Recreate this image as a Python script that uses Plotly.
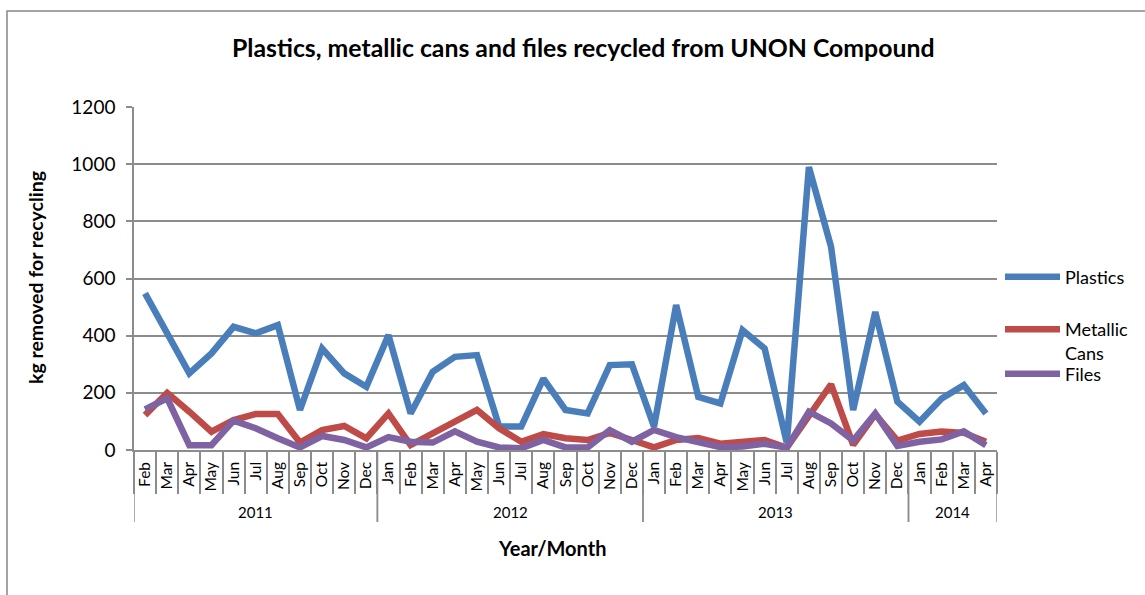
import plotly.graph_objects as go

# ---- data ----
month_labels = (["Feb", "Mar", "Apr", "May", "Jun", "Jul", "Aug", "Sep", "Oct", "Nov", "Dec"]
                + ["Jan", "Feb", "Mar", "Apr", "May", "Jun", "Jul", "Aug", "Sep", "Oct", "Nov", "Dec"]
                + ["Jan", "Feb", "Mar", "Apr", "May", "Jun", "Jul", "Aug", "Sep", "Oct", "Nov", "Dec"]
                + ["Jan", "Feb", "Mar", "Apr"])
year_labels = ["2011"] * 11 + ["2012"] * 12 + ["2013"] * 12 + ["2014"] * 4

plastics = [548, 413, 268, 338, 431, 408, 437, 140, 355, 268, 221,
            402, 128, 274, 326, 332, 82, 82, 250, 140, 128, 297, 300,
            82, 507, 186, 163, 419, 355, 25, 990, 711, 140, 483, 169,
            99, 180, 227, 128]
metallic_cans = [122, 200, 134, 64, 105, 126, 126, 26, 70, 84, 41,
                 128, 17, 58, 100, 140, 76, 29, 56, 41, 35, 60, 35,
                 9, 35, 42, 22, 26, 35, 8, 115, 230, 18, 125, 33,
                 56, 65, 60, 29]
files = [142, 181, 17, 17, 103, 76, 41, 9, 49, 35, 9,
         45, 29, 26, 65, 29, 9, 6, 35, 9, 9, 70, 29,
         70, 45, 28, 10, 12, 22, 8, 134, 93, 33, 128, 14,
         29, 37, 65, 17]

series_names = ["Plastics", "Metallic<br>Cans", "Files"]
series_colors = ["#4A7EBB", "#BE4B48", "#7E62A1"]

FONT = "Lato"
GRID = "#8C8C8C"

n = len(month_labels)
xpos = list(range(n))

# year groups (derived from year_labels)
groups = []
for i, yl in enumerate(year_labels):
    if not groups or groups[-1][0] != yl:
        groups.append([yl, i, i])
    else:
        groups[-1][2] = i

L, R, T, B = 134, 997, 107, 450
W, H = 1145, 595
pw, ph = R - L, B - T

def py(pix):
    return (B - pix) / ph

def px(pix):
    return (pix - L) / pw

fig = go.Figure()
legend_ids = ["legend", "legend2", "legend3"]
for name, vals, col, lg in zip(series_names, [plastics, metallic_cans, files], series_colors, legend_ids):
    fig.add_trace(go.Scatter(
        x=xpos, y=vals, mode="lines", name=name, legend=lg,
        line=dict(color=col, width=6.5),
        customdata=month_labels,
    ))

leg_common = dict(xanchor="left", font=dict(size=18, family=FONT), valign="top",
                  itemwidth=55, bgcolor="rgba(0,0,0,0)", borderwidth=0)

shapes = [
    dict(type="rect", xref="paper", yref="paper",
         x0=px(7), x1=px(1200), y0=py(650), y1=py(11),
         line=dict(color="#878787", width=1.5), fillcolor="rgba(0,0,0,0)", layer="below"),
]
annotations = [
    dict(text="<b>Plastics, metallic cans and files recycled from UNON Compound</b>",
         xref="paper", yref="paper", x=px(583), y=py(47),
         xanchor="center", yanchor="middle", showarrow=False,
         font=dict(size=24.8, family=FONT)),
    dict(text="<b>kg removed for recycling</b>", xref="paper", yref="paper",
         x=px(35), y=py(278), xanchor="center", yanchor="middle",
         textangle=-90, showarrow=False, font=dict(size=19.5, family=FONT)),
    dict(text="<b>Year/Month</b>", xref="paper", yref="paper",
         x=px(552), y=py(548), xanchor="center", yanchor="middle",
         showarrow=False, font=dict(size=20, family=FONT)),
]
for yl, i0, i1 in groups:
    annotations.append(dict(text=yl, xref="x", yref="paper", x=(i0 + i1) / 2, y=py(512),
                            xanchor="center", yanchor="middle", showarrow=False,
                            font=dict(size=15, family=FONT)))
    for b in (i0 - 0.5, i1 + 0.5):
        shapes.append(dict(type="line", xref="x", yref="paper", x0=b, x1=b,
                           y0=0, y1=py(522), line=dict(color=GRID, width=1.5)))

fig.update_layout(
    width=W, height=H,
    margin=dict(l=L, r=W - R, t=T, b=H - B, autoexpand=False),
    paper_bgcolor="white", plot_bgcolor="white",
    font=dict(family=FONT, color="black", size=15),
    showlegend=True,
    legend=dict(x=px(1000), y=py(277), yanchor="middle", **leg_common),
    legend2=dict(x=px(1000), y=py(311), yanchor="top", **leg_common),
    legend3=dict(x=px(1000), y=py(374), yanchor="middle", **leg_common),
    xaxis=dict(
        type="linear", showgrid=False, zeroline=False, showline=True, linecolor=GRID, linewidth=1.5,
        range=[-0.5, n - 0.5], tickmode="array", tickvals=xpos, ticktext=month_labels,
        ticks="", tickangle=-90, tickfont=dict(size=15.5, family=FONT), ticklabelstandoff=4,
        minor=dict(tickmode="array", tickvals=[i - 0.5 for i in range(n + 1)], ticks="outside",
                   ticklen=42, tickcolor=GRID, tickwidth=1.5, showgrid=False),
    ),
    yaxis=dict(
        range=[0, 1200], tickmode="array", tickvals=[0, 200, 400, 600, 800, 1000, 1200],
        showgrid=True, gridcolor=GRID, gridwidth=1.8,
        showline=True, linecolor=GRID, linewidth=1.5, ticks="outside", ticklen=6,
        tickcolor=GRID, tickwidth=1.5, tickfont=dict(size=19, family=FONT),
        ticklabelstandoff=7, zeroline=False,
    ),
    annotations=annotations,
    shapes=shapes,
)

fig.write_html("out.html")
